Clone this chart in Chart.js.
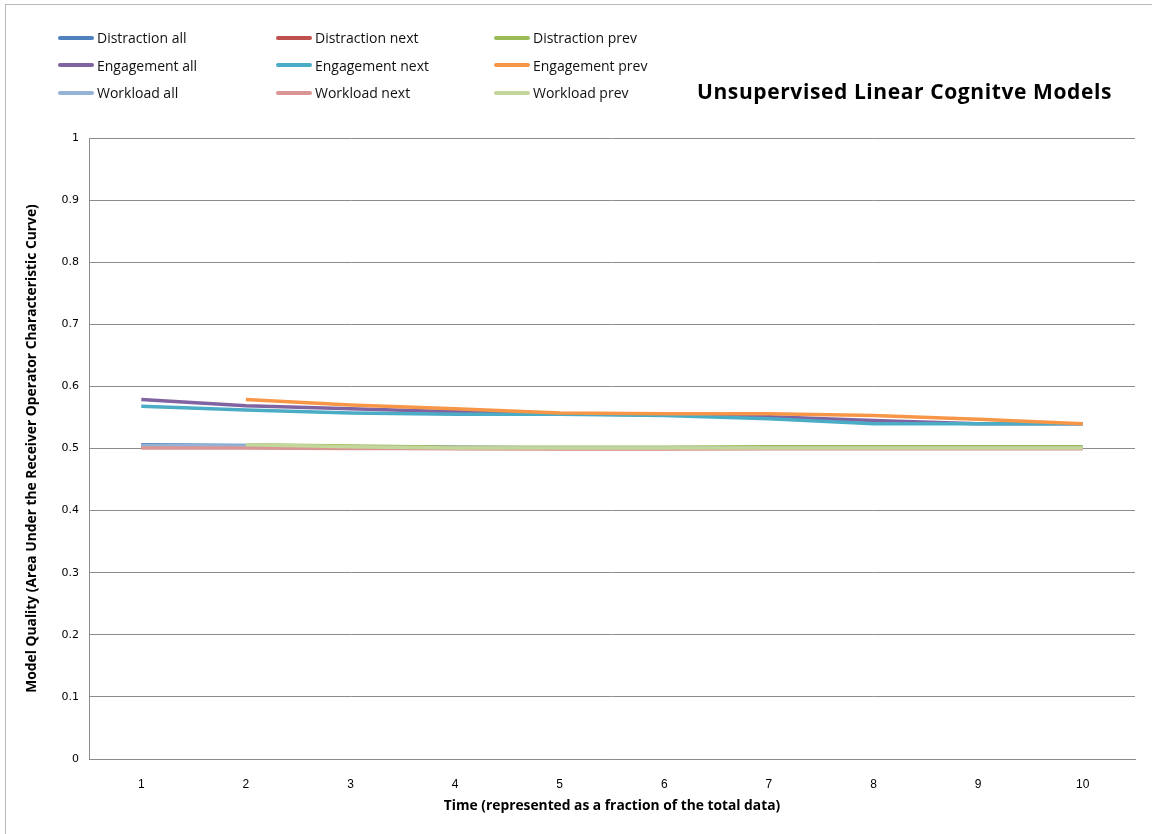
<!DOCTYPE html>
<html>
<head>
<meta charset="utf-8">
<script src="https://cdn.jsdelivr.net/npm/chart.js@4"></script>
<style>
  html, body { margin: 0; padding: 0; background: #fff; overflow: hidden; }
  #wrap { position: relative; width: 1152px; height: 834px; }
  #frame { position: absolute; left: 5px; top: 4px; width: 1300px; height: 1000px; border: 1px solid #b9b9b9; box-sizing: border-box; }
  #chart { position: absolute; left: 0; top: 0; }
  #legend { position: absolute; left: 58px; top: 24px; display: grid; grid-template-columns: 218px 218px 218px; grid-auto-rows: 27.5px; font-family: "Open Sans", "Liberation Sans", sans-serif; font-size: 14px; color: #111; }
  #legend .item { display: flex; align-items: center; white-space: nowrap; }
  #legend .sw { display: inline-block; width: 36px; height: 4px; border-radius: 2px; margin-right: 3px; }
  #title { position: absolute; left: 697px; top: 77px; font-family: "Open Sans", "Liberation Sans", sans-serif; font-weight: bold; font-size: 21px; letter-spacing: 0.6px; color: #000; white-space: nowrap; }
</style>
</head>
<body>
<div id="wrap">
  <div id="frame"></div>
  <canvas id="chart" width="1152" height="834"></canvas>
  <div id="legend"></div>
  <div id="title">Unsupervised Linear Cognitve Models</div>
</div>
<script>
// Time steps (fraction of the total data)
const timeLabels = ['1', '2', '3', '4', '5', '6', '7', '8', '9', '10'];

// Area under the ROC curve for each model / window
const distractionAll  = [0.506, 0.505, 0.503, 0.502, 0.501, 0.501, 0.501, 0.501, 0.501, 0.501];
const distractionNext = [0.502, 0.502, 0.501, 0.500, 0.500, 0.500, 0.500, 0.500, 0.500, 0.500];
const distractionPrev = [null, 0.506, 0.504, 0.502, 0.502, 0.502, 0.503, 0.503, 0.503, 0.503];
const engagementAll   = [0.579, 0.569, 0.564, 0.559, 0.556, 0.554, 0.551, 0.545, 0.540, 0.540];
const engagementNext  = [0.568, 0.562, 0.557, 0.555, 0.555, 0.553, 0.548, 0.540, 0.540, 0.540];
const engagementPrev  = [null, 0.579, 0.570, 0.564, 0.557, 0.556, 0.556, 0.553, 0.547, 0.540];
const workloadAll     = [0.505, 0.504, 0.502, 0.501, 0.501, 0.501, 0.501, 0.501, 0.501, 0.501];
const workloadNext    = [0.501, 0.501, 0.500, 0.500, 0.499, 0.499, 0.500, 0.500, 0.500, 0.500];
const workloadPrev    = [null, 0.506, 0.503, 0.501, 0.501, 0.501, 0.501, 0.501, 0.501, 0.501];

const seriesNames = ['Distraction all', 'Distraction next', 'Distraction prev',
                     'Engagement all', 'Engagement next', 'Engagement prev',
                     'Workload all', 'Workload next', 'Workload prev'];
const seriesData = [distractionAll, distractionNext, distractionPrev,
                    engagementAll, engagementNext, engagementPrev,
                    workloadAll, workloadNext, workloadPrev];
const seriesColors = ['#4f81bd', '#c0504d', '#9bbb59',
                      '#8064a2', '#4bacc6', '#f79646',
                      '#95b3d7', '#d99694', '#c3d69b'];

const datasets = seriesNames.map((name, i) => ({
  label: name,
  data: seriesData[i],
  borderColor: seriesColors[i],
  backgroundColor: seriesColors[i],
  borderWidth: 3.5,
  pointRadius: 0,
  tension: 0,
  fill: false,
  // later series are painted over earlier ones
  order: seriesNames.length - i
}));

const gridColor = '#8c8c8c';

const chart = new Chart(document.getElementById('chart'), {
  type: 'line',
  data: { labels: timeLabels, datasets },
  options: {
    responsive: false,
    animation: false,
    layout: { padding: { left: 0, top: 138, right: 17, bottom: 0 } },
    plugins: { legend: { display: false }, tooltip: { enabled: false } },
    scales: {
      x: {
        offset: true,
        grid: { display: false, drawTicks: false },
        border: { display: true, color: gridColor, width: 1 },
        ticks: { padding: 18, color: '#000', font: { family: 'Liberation Sans', size: 12 }, maxRotation: 0 },
        title: {
          display: true,
          text: 'Time (represented as a fraction of the total data)',
          color: '#000',
          font: { family: 'Open Sans', size: 13.8, weight: 'bold' },
          padding: { top: 0, bottom: 20 }
        },
        afterFit: s => { s.height = 75; }
      },
      y: {
        min: 0, max: 1,
        ticks: {
          stepSize: 0.1, padding: 10, color: '#000',
          font: { family: 'DejaVu Sans', size: 11 },
          callback: v => String(parseFloat(Number(v).toFixed(1)))
        },
        grid: { color: gridColor, lineWidth: 1, drawTicks: false },
        border: { display: true, color: gridColor, width: 1 },
        title: {
          display: true,
          text: 'Model Quality (Area Under the Receiver Operator Characteristic Curve)',
          color: '#000',
          font: { family: 'Open Sans', size: 13.8, weight: 'bold' },
          padding: { top: 24, bottom: 0 }
        },
        afterFit: s => { s.width = 89; }
      }
    }
  }
});

// Legend built from the chart's datasets, three per row
const legendEl = document.getElementById('legend');
chart.data.datasets.forEach(ds => {
  const item = document.createElement('div');
  item.className = 'item';
  const sw = document.createElement('span');
  sw.className = 'sw';
  sw.style.background = ds.borderColor;
  const txt = document.createElement('span');
  txt.textContent = ds.label;
  item.appendChild(sw);
  item.appendChild(txt);
  legendEl.appendChild(item);
});
</script>
</body>
</html>
